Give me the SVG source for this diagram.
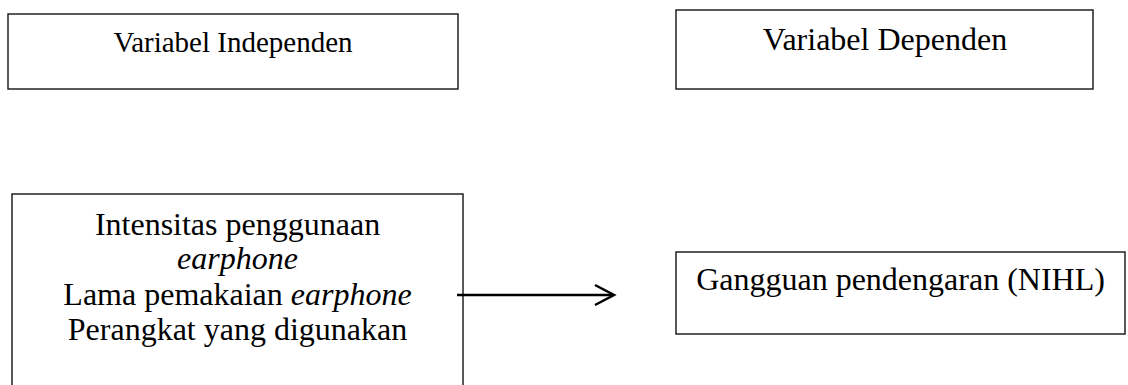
<svg xmlns="http://www.w3.org/2000/svg" width="1128" height="385" viewBox="0 0 1128 385">
<style>
.box{fill:#fff;stroke:#222;stroke-width:1.5}
.t{font-family:"Liberation Serif","Times New Roman",serif;fill:#000;text-anchor:middle}
.conn{stroke:#000;stroke-width:2.5;fill:none}
</style>
<rect width="1128" height="385" fill="#fff"/>
<g id="node-independen">
<rect class="box" x="8" y="14" width="450" height="75"/>
<text class="t" x="233" y="52" font-size="29">Variabel Independen</text>
</g>
<g id="node-dependen">
<rect class="box" x="676" y="10" width="417" height="79"/>
<text class="t" x="885" y="50" font-size="32">Variabel Dependen</text>
</g>
<g id="node-x">
<rect class="box" x="12" y="194" width="451" height="220"/>
<text class="t" x="237.5" y="235" font-size="32">Intensitas penggunaan</text>
<text class="t" x="237.5" y="269" font-size="32" font-style="italic">earphone</text>
<text class="t" x="237.5" y="305" font-size="32">Lama pemakaian <tspan font-style="italic">earphone</tspan></text>
<text class="t" x="237.5" y="340" font-size="32">Perangkat yang digunakan</text>
</g>
<g id="node-y">
<rect class="box" x="676" y="252" width="449" height="82"/>
<text class="t" x="900.5" y="290" font-size="32">Gangguan pendengaran (NIHL)</text>
</g>
<g id="connectors">
<line class="conn" x1="457" y1="295" x2="613" y2="295"/>
<polyline class="conn" points="595,285 614,295 595,305"/>
</g>
</svg>
